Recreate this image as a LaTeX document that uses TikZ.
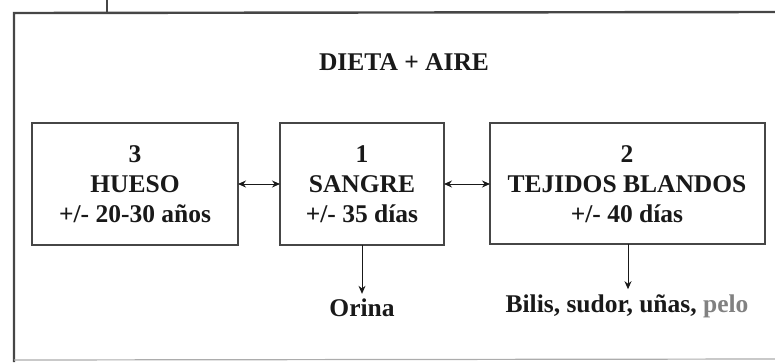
\documentclass[tikz,border=0pt]{standalone}
\usepackage{fontspec}
\setmainfont{Liberation Serif}
\usetikzlibrary{arrows.meta}
\definecolor{ink}{RGB}{25,25,25}
\definecolor{frameink}{RGB}{70,70,70}
\begin{document}
\begin{tikzpicture}[x=1pt,y=-1pt,
  txt/.style={font=\fontsize{25.5}{30}\selectfont\bfseries, text=ink, inner sep=0pt},
  card/.style={draw=frameink, line width=1.6pt, fill=white},
  link/.style={draw=ink, line width=1pt, {Stealth[length=8pt,width=7pt]}-{Stealth[length=8pt,width=7pt]}},
  drain/.style={draw=ink, line width=1pt, -{Stealth[length=8pt,width=7pt]}}]
  \useasboundingbox (0,0) rectangle (775,362);
  % outer frame
  \draw[frameink, line width=2.4pt] (775,12) -- (14,13) -- (14,362);
  \draw[frameink!45, line width=1.2pt] (14,360) -- (775,359);
  \draw[frameink, line width=1.5pt] (107,0) -- (107,13);
  % title
  \node[txt] (title) at (404,62) {DIETA + AIRE};
  % compartments
  \draw[card] (32,123) rectangle (238,245);
  \node[txt, align=center] (hueso) at (135,184) {3\\HUESO\\+/- 20-30 años};
  \draw[card] (280,123) rectangle (444,245);
  \node[txt, align=center] (sangre) at (362,184) {1\\SANGRE\\+/- 35 días};
  \draw[card] (490,123) rectangle (765,244);
  \node[txt, align=center] (tejidos) at (627,184) {2\\TEJIDOS BLANDOS\\+/- 40 días};
  % anchors on the box outlines
  \coordinate (hR) at (238,184);
  \coordinate (sL) at (280,184);
  \coordinate (sR) at (444,184);
  \coordinate (tL) at (490,184);
  \coordinate (sB) at (362,245);
  \coordinate (tB) at (628,244);
  % excretion outputs
  \node[txt] (orina) at (362,308) {Orina};
  \node[txt] (bilis) at (627,306) {Bilis, sudor, uñas, \textcolor{ink!55}{pelo}};
  % exchanges between compartments
  \draw[link] (hR) -- (sL);
  \draw[link] (sR) -- (tL);
  \draw[drain] (sB) -- ([yshift=5pt]sB |- orina.north);
  \draw[drain] (tB) -- ([yshift=5pt]tB |- bilis.north);
\end{tikzpicture}
\end{document}
